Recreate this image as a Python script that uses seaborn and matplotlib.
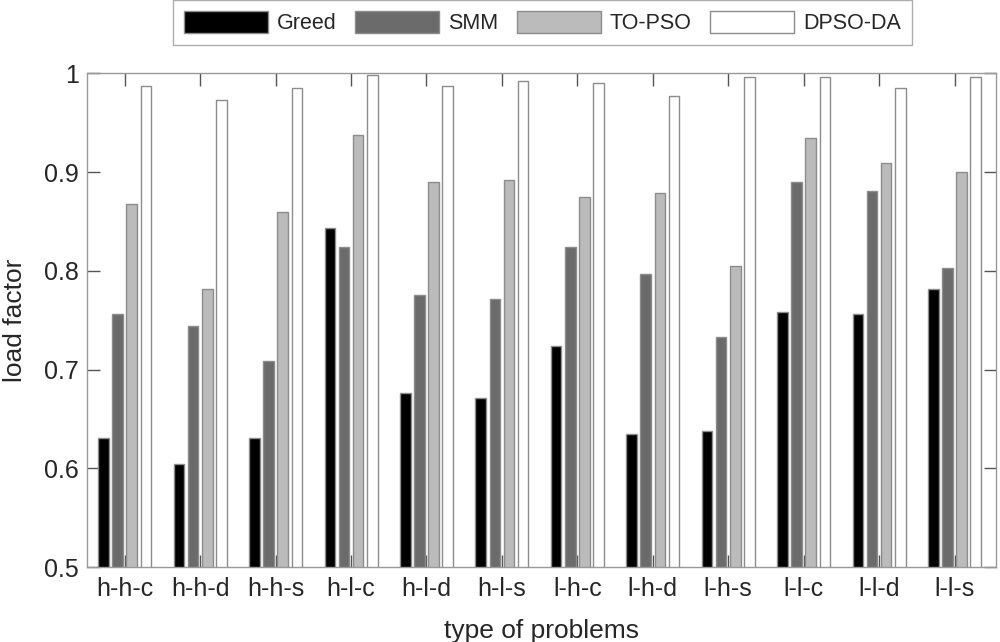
import matplotlib
matplotlib.use("Agg")
import matplotlib.pyplot as plt
import seaborn as sns
import pandas as pd
from matplotlib.ticker import FuncFormatter

problems = ["h-h-c", "h-h-d", "h-h-s", "h-l-c", "h-l-d", "h-l-s",
            "l-h-c", "l-h-d", "l-h-s", "l-l-c", "l-l-d", "l-l-s"]
methods = ["Greed", "SMM", "TO-PSO", "DPSO-DA"]
greed = [0.631, 0.604, 0.631, 0.843, 0.676, 0.671, 0.724, 0.635, 0.638, 0.758, 0.756, 0.782]
smm = [0.756, 0.744, 0.709, 0.824, 0.775, 0.771, 0.824, 0.797, 0.733, 0.890, 0.881, 0.803]
topso = [0.868, 0.782, 0.860, 0.938, 0.890, 0.892, 0.875, 0.879, 0.805, 0.934, 0.909, 0.900]
dpsoda = [0.987, 0.973, 0.985, 0.998, 0.987, 0.992, 0.990, 0.977, 0.996, 0.996, 0.985, 0.996]
yticks = [0.5, 0.6, 0.7, 0.8, 0.9, 1.0]
colors = ["#000000", "#6b6b6b", "#bbbbbb", "#ffffff"]

rows = []
for m, vals in zip(methods, [greed, smm, topso, dpsoda]):
    for p, v in zip(problems, vals):
        rows.append({"problem": p, "method": m, "value": v})
df = pd.DataFrame(rows)

sns.set_style("white")
plt.rcParams["font.family"] = ["Liberation Sans", "DejaVu Sans"]

fig = plt.figure(figsize=(10, 6.42), dpi=100)
ax = fig.add_axes([0.087, 0.1168, 0.909, 0.769])

sns.barplot(data=df, x="problem", y="value", hue="method", order=problems,
            hue_order=methods, palette=colors, width=0.75, gap=0.25,
            edgecolor="#8c8c8c", linewidth=1.0, ax=ax, legend=True)

ax.set_ylim(0.5, 1.0)
ax.set_xlim(-0.5, 11.55)
ax.set_yticks(yticks)
ax.yaxis.set_major_formatter(FuncFormatter(lambda v, p: "%g" % v))
ax.set_xlabel("type of problems", fontsize=19, labelpad=13)
ax.set_ylabel("load factor", fontsize=19, labelpad=12)

for s in ax.spines.values():
    s.set_visible(True)
    s.set_color("#999999")
    s.set_linewidth(1.0)

ax.tick_params(axis="x", which="major", top=True, bottom=True, direction="in",
               length=9, width=1, color="#555555", labelsize=18, pad=7)
ax.tick_params(axis="y", which="major", left=True, right=True, direction="in",
               length=9, width=1, color="#555555", labelsize=18, pad=6)

handles, labels = ax.get_legend_handles_labels()
ax.get_legend().remove()
leg = fig.legend(handles, labels, loc="upper center", bbox_to_anchor=(0.5425, 1.0),
                 ncol=4, fontsize=15.5, frameon=True, fancybox=False,
                 handlelength=3.9, handleheight=1.2, handletextpad=0.42,
                 columnspacing=0.85, borderpad=0.5, borderaxespad=0.0)
leg.get_frame().set_edgecolor("#999999")
leg.get_frame().set_linewidth(1.0)

fig.savefig("out.png", dpi=100)
